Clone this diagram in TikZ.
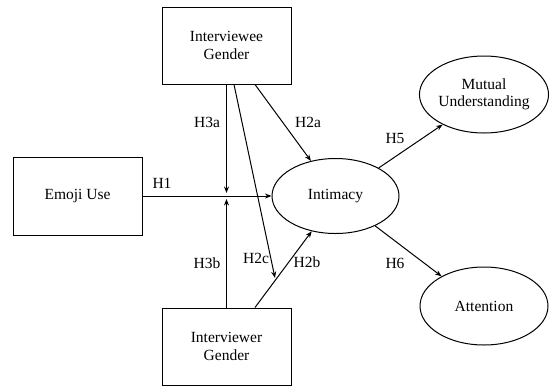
\documentclass[tikz,border=0pt]{standalone}
\usepackage{fontspec}
\setmainfont{Liberation Serif}
\usetikzlibrary{arrows.meta,shapes.geometric}
\begin{document}
\begin{tikzpicture}[x=1pt,y=-1pt,
  every node/.style={font=\fontsize{15.5}{17.5}\selectfont},
  box/.style={draw,line width=1pt,minimum width=129pt,minimum height=77pt,inner sep=0pt,align=center},
  oval/.style={draw,ellipse,line width=1pt,inner sep=0pt,align=center},
  conn/.style={line width=1pt,-{Stealth[length=6.5pt,width=5pt]}},
  lbl/.style={inner sep=0pt}]
\useasboundingbox (0,0) rectangle (554,386);
\node[box] (ee) at (226.5,45.5) {Interviewee\\Gender};
\node[box] (er) at (226.5,346.5) {Interviewer\\Gender};
\node[box,minimum height=78pt] (emo) at (77.5,196) {Emoji Use};
\node[oval,minimum width=127pt,minimum height=75pt] (int) at (335.5,196) {Intimacy};
\node[oval,minimum width=128pt,minimum height=77pt] (mu) at (484,94.5) {Mutual\\Understanding};
\node[oval,minimum width=128pt,minimum height=78pt] (att) at (484,306) {Attention};
\coordinate (m1) at (226.5,193);
\coordinate (m2) at (226.5,199);
\coordinate (c2) at (275,278);
\draw[conn] (emo.east) -- (int.west);
\draw[conn] (ee.south) -- (m1);
\draw[conn] (er.north) -- (m2);
\draw[conn] ([xshift=28.5pt]ee.south) -- (int.125);
\draw[conn] ([xshift=7.5pt]ee.south) -- (c2);
\draw[conn] ([xshift=28.5pt]er.north) -- (int.-124);
\draw[conn] (int.33) -- (mu.216);
\draw[conn] (int.-37) -- (att.145);
\node[lbl] (l1) at (162,183) {H1};
\node[lbl] (l3a) at (207,122) {H3a};
\node[lbl] (l2a) at (308,122) {H2a};
\node[lbl] (l3b) at (207,263) {H3b};
\node[lbl] (l2c) at (256,258) {H2c};
\node[lbl] (l2b) at (307,262) {H2b};
\node[lbl] (l5) at (395,138) {H5};
\node[lbl] (l6) at (395,263) {H6};
\end{tikzpicture}
\end{document}
